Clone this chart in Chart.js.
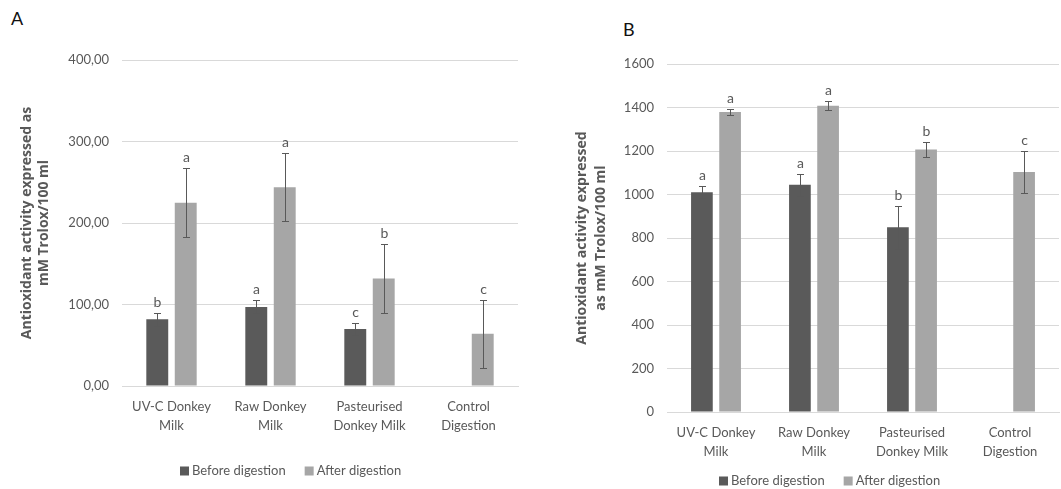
<!DOCTYPE html>
<html>
<head>
<meta charset="utf-8">
<script src="https://cdn.jsdelivr.net/npm/chart.js@4.4.0/dist/chart.umd.min.js"></script>
<style>
  body { margin: 0; background: #fff; width: 1061px; height: 489px; position: relative; overflow: hidden; font-family: Lato, "Open Sans", sans-serif; }
  canvas { position: absolute; top: 0; }
  .panel { position: absolute; font-size: 18px; color: #111; }
</style>
</head>
<body>
<div class="panel" style="left:11px;top:7px">A</div>
<div class="panel" style="left:623px;top:18px">B</div>
<canvas id="chartA" width="530" height="489" style="left:0"></canvas>
<canvas id="chartB" width="531" height="489" style="left:530px"></canvas>
<script>
// categories and series
const categories = [["UV-C Donkey", "Milk"], ["Raw Donkey", "Milk"], ["Pasteurised", "Donkey Milk"], ["Control", "Digestion"]];
const seriesNames = ["Before digestion", "After digestion"];

// panel A values (mM Trolox/100 ml)
const beforeA = [82, 97, 70, null];
const afterA = [225, 244, 132, 64];
const beforeErrA = [8, 8, 7, null];
const afterErrA = [42, 42, 42, 42];
const beforeLettersA = ["b", "a", "c", ""];
const afterLettersA = ["a", "a", "b", "c"];
const yTicksA = ["0,00", "100,00", "200,00", "300,00", "400,00"];

// panel B values
const beforeB = [1010, 1045, 849, null];
const afterB = [1379, 1408, 1207, 1103];
const beforeErrB = [28, 50, 98, null];
const afterErrB = [15, 20, 33, 98];
const beforeLettersB = ["a", "a", "b", ""];
const afterLettersB = ["a", "a", "b", "c"];
const yTicksB = ["0", "200", "400", "600", "800", "1000", "1200", "1400", "1600"];

const DARK = "#5a5a5a";
const LIGHT = "#a6a6a6";
const TEXT = "#595959";
const FONT = "Lato";

// error bars + significance letters
const errorBars = {
  id: "errorBars",
  afterDatasetsDraw(chart) {
    const ctx = chart.ctx;
    const y = chart.scales.y;
    ctx.save();
    chart.data.datasets.forEach((ds, di) => {
      const meta = chart.getDatasetMeta(di);
      meta.data.forEach((bar, i) => {
        const v = ds.data[i];
        if (v == null) return;
        const e = ds.err[i];
        const top = Math.round(y.getPixelForValue(v + e));
        const bot = Math.round(y.getPixelForValue(v - e));
        const x = Math.round(bar.x) + 0.5;
        ctx.strokeStyle = TEXT;
        ctx.lineWidth = 1;
        ctx.beginPath();
        ctx.moveTo(x, top);
        ctx.lineTo(x, bot);
        ctx.moveTo(x - 3.5, top + 0.5);
        ctx.lineTo(x + 3.5, top + 0.5);
        ctx.moveTo(x - 3.5, bot + 0.5);
        ctx.lineTo(x + 3.5, bot + 0.5);
        ctx.stroke();
        ctx.fillStyle = TEXT;
        ctx.font = "14px " + FONT;
        ctx.textAlign = "center";
        ctx.textBaseline = "middle";
        ctx.fillText(ds.letters[i], x, top - 11);
      });
    });
    ctx.restore();
  }
};

// simple legend drawn below the axis
const bottomLegend = {
  id: "bottomLegend",
  afterDraw(chart, args, opts) {
    const ctx = chart.ctx;
    ctx.save();
    ctx.font = "13px " + FONT;
    ctx.textBaseline = "middle";
    ctx.textAlign = "left";
    let x = opts.x;
    chart.data.datasets.forEach(ds => {
      ctx.fillStyle = ds.backgroundColor;
      ctx.fillRect(x, opts.y - 4.5, 9, 9);
      x += 12;
      ctx.fillStyle = TEXT;
      ctx.fillText(ds.label, x, opts.y);
      x += ctx.measureText(ds.label).width + 19;
    });
    ctx.restore();
  }
};

function makeChart(id, cfg) {
  new Chart(document.getElementById(id), {
    type: "bar",
    data: {
      labels: categories,
      datasets: [
        { label: seriesNames[0], data: cfg.before, err: cfg.beforeErr, letters: cfg.beforeLetters, backgroundColor: DARK },
        { label: seriesNames[1], data: cfg.after, err: cfg.afterErr, letters: cfg.afterLetters, backgroundColor: LIGHT }
      ]
    },
    options: {
      responsive: false,
      animation: false,
      categoryPercentage: 0.575,
      barPercentage: 0.77,
      layout: { padding: cfg.padding },
      plugins: {
        legend: { display: false },
        tooltip: { enabled: false },
        bottomLegend: cfg.legend
      },
      scales: {
        x: {
          grid: { display: false, drawTicks: false },
          border: { display: true, color: "#d9d9d9" },
          ticks: { color: TEXT, font: { family: FONT, size: 13, lineHeight: 1.46 }, padding: 11, maxRotation: 0, autoSkip: false },
          afterFit: s => { s.height = cfg.xHeight; }
        },
        y: {
          min: 0,
          max: cfg.max,
          ticks: { stepSize: cfg.step, color: TEXT, font: { family: FONT, size: 13 }, padding: 13,
                   callback: (v, i) => cfg.ticks[i] },
          grid: { color: "#d9d9d9", drawTicks: false },
          border: { display: false },
          title: { display: true, text: cfg.title, color: TEXT,
                   font: { family: "Open Sans", size: 14, weight: "bold", lineHeight: cfg.titleLH },
                   padding: { top: cfg.titlePad, bottom: 0 } },
          afterFit: s => { s.width = cfg.yWidth; }
        }
      }
    },
    plugins: [errorBars, bottomLegend]
  });
}

makeChart("chartA", {
  before: beforeA, after: afterA, beforeErr: beforeErrA, afterErr: afterErrA,
  beforeLetters: beforeLettersA, afterLetters: afterLettersA,
  ticks: yTicksA, max: 400, step: 100,
  title: ["Antioxidant activity expressed as", "mM Trolox/100 ml"],
  titleLH: 1.21, titlePad: 19,
  padding: { top: 60, right: 12, left: 0, bottom: 0 },
  yWidth: 122, xHeight: 103,
  legend: { x: 180, y: 471 }
});

makeChart("chartB", {
  before: beforeB, after: afterB, beforeErr: beforeErrB, afterErr: afterErrB,
  beforeLetters: beforeLettersB, afterLetters: afterLettersB,
  ticks: yTicksB, max: 1600, step: 200,
  title: ["Antioxidant activity expressed", "as mM Trolox/100 ml"],
  titleLH: 1.39, titlePad: 42,
  padding: { top: 64, right: 2, left: 0, bottom: 0 },
  yWidth: 137, xHeight: 77,
  legend: { x: 189, y: 481 }
});
</script>
</body>
</html>
